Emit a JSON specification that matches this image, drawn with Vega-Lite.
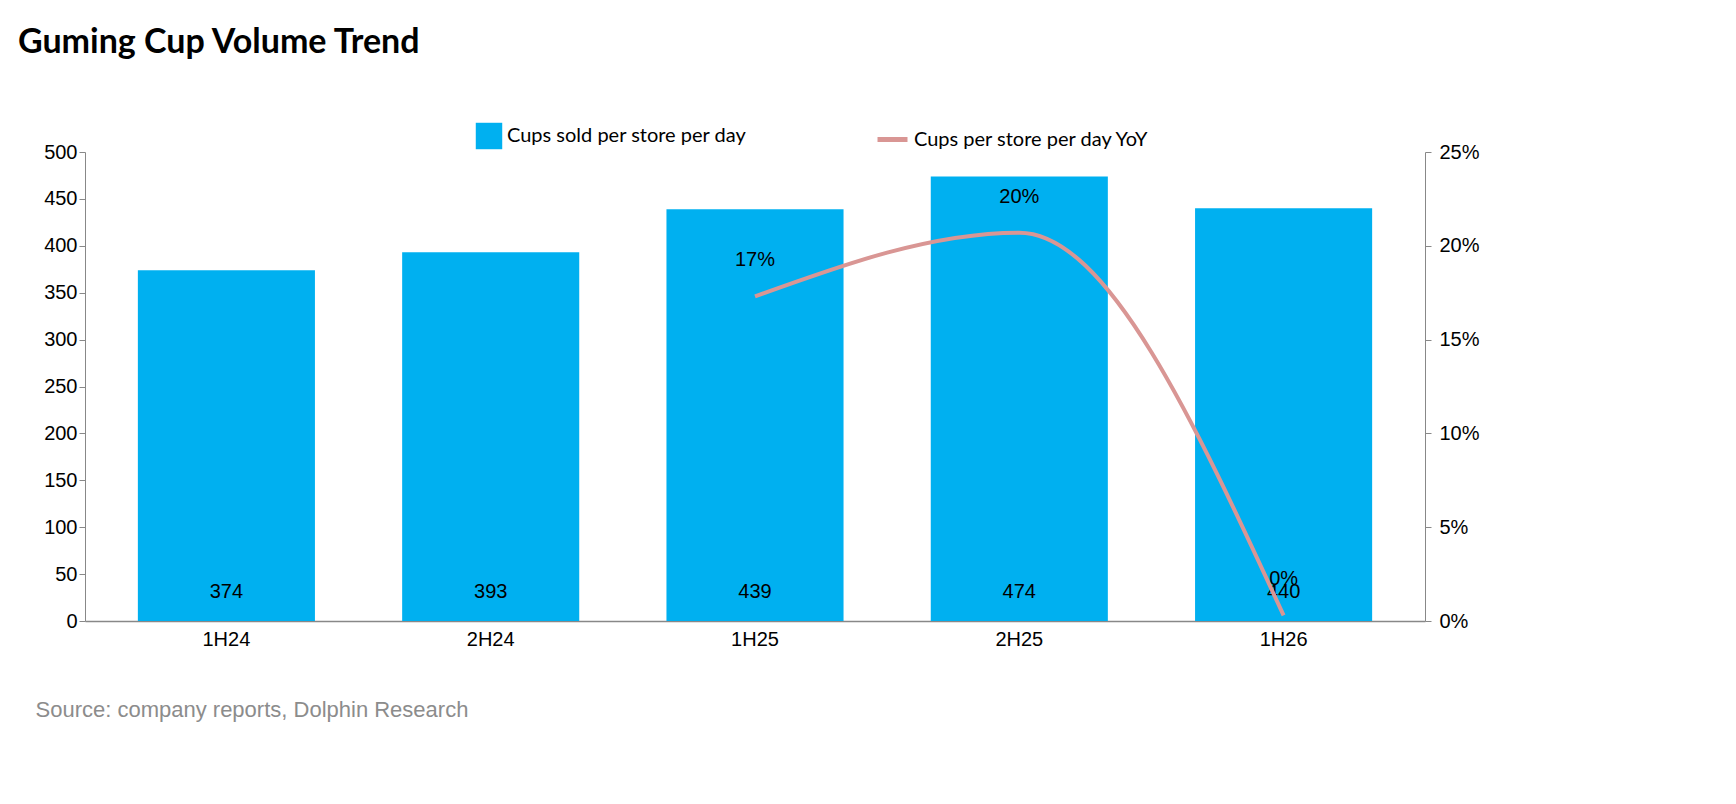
{
"$schema":"https://vega.github.io/schema/vega-lite/v6.json",
"width":1340,"height":469,
"autosize":"none",
"padding":{"left":85,"top":152,"right":311,"bottom":183},
"background":"white",
"config":{"view":{"stroke":null},"font":"Liberation Sans"},
"title":{"text":"Guming Cup Volume Trend","anchor":"start","frame":"group","font":"Lato","fontSize":34,"fontWeight":"bold","color":"black","offset":62,"dx":-67},
"data":{"values":[
{"p":"1H24","cups":374,"yoy":null,"lbl":""},
{"p":"2H24","cups":393,"yoy":null,"lbl":""},
{"p":"1H25","cups":439,"yoy":0.173,"lbl":"17%"},
{"p":"2H25","cups":474,"yoy":0.207,"lbl":"20%"},
{"p":"1H26","cups":440,"yoy":0.003,"lbl":"0%"}
]},
"encoding":{"x":{"field":"p","type":"nominal","sort":null,"scale":{"paddingInner":0.33,"paddingOuter":0.2},
 "axis":{"title":"Source: company reports, Dolphin Research","titleAnchor":"start","titleAlign":"left","titleX":-50,"titleY":78,"titleFont":"Liberation Sans","titleFontSize":22,"titleFontWeight":"normal","titleColor":"#8c8c8c","labelAngle":0,"labelFontSize":20,"labelColor":"black","labelPadding":8,"ticks":false,"domainColor":"#888","domainWidth":1.5}}},
"layer":[
{"layer":[
 {"mark":{"type":"bar","color":"#00B0F0"},
  "encoding":{"y":{"field":"cups","type":"quantitative","scale":{"domain":[0,500]},"axis":{"values":[0,50,100,150,200,250,300,350,400,450,500],"grid":false,"labelFontSize":20,"labelColor":"black","title":null,"domainColor":"#888","tickColor":"#888","tickSize":6}},
   "fill":{"datum":"Cups sold per store per day","type":"nominal","scale":{"range":["#00B0F0"]},"legend":{"orient":"none","legendX":390,"legendY":-30,"title":null,"symbolType":"square","symbolSize":700,"labelFontSize":20,"labelFont":"Lato","labelColor":"black","labelLimit":500}}}},
 {"mark":{"type":"text","fontSize":20,"color":"black"},
  "encoding":{"y":{"datum":31,"type":"quantitative"},"text":{"field":"cups"}}}
]},
{"transform":[{"filter":"datum.yoy != null"}],
 "encoding":{"y":{"field":"yoy","type":"quantitative","scale":{"domain":[0,0.25]},"axis":{"orient":"right","format":".0%","values":[0,0.05,0.1,0.15,0.2,0.25],"grid":false,"labelFontSize":20,"labelColor":"black","labelPadding":8,"title":null,"domainColor":"#888","tickColor":"#888","tickSize":6}}},
 "layer":[
 {"mark":{"type":"line","interpolate":"monotone","strokeWidth":4,"color":"#D99694"},
  "encoding":{
   "stroke":{"datum":"Cups per store per day YoY","type":"nominal","scale":{"range":["#D99694"]},"legend":{"orient":"none","legendX":790,"legendY":-30,"title":null,"symbolType":"stroke","symbolStrokeWidth":5,"symbolSize":900,"labelFontSize":20,"labelFont":"Lato","labelColor":"black","labelLimit":500}}}},
 {"mark":{"type":"text","fontSize":20,"color":"black","dy":-36},
  "encoding":{"text":{"field":"lbl"}}}
]}
],
"resolve":{"scale":{"y":"independent","fill":"independent","stroke":"independent"},"axis":{"y":"independent"}}
}
